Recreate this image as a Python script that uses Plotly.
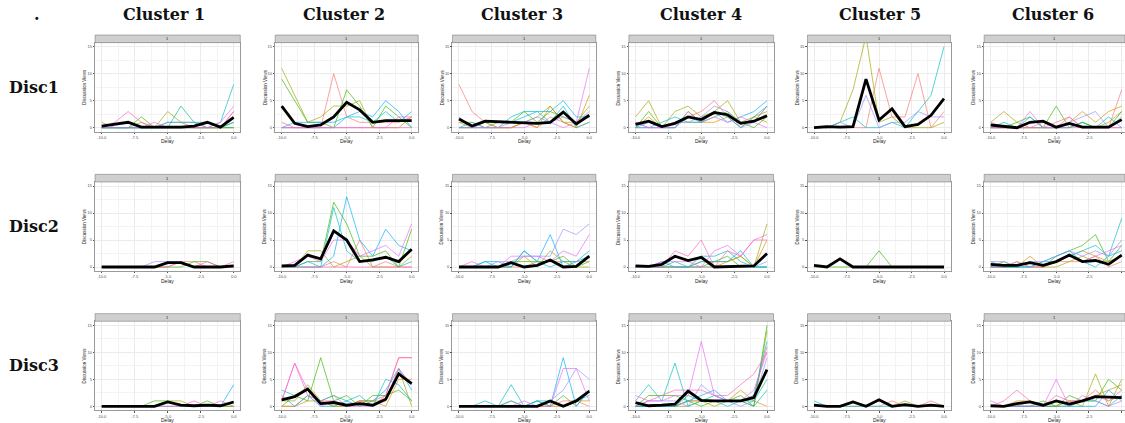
import plotly.graph_objects as go

# Delay steps shared by every panel
delay = list(range(-10, 1))

# ggplot-style hue palette; keys in the *_lines dicts index into it
HUES = ['#F8766D', '#D89000', '#A3A500', '#39B600', '#00BF7D',
        '#00BFC4', '#00B0F6', '#9590FF', '#E76BF3', '#FF62BC']

cluster_names = ['Cluster 1', 'Cluster 2', 'Cluster 3', 'Cluster 4', 'Cluster 5', 'Cluster 6']
disc_names = ['Disc1', 'Disc2', 'Disc3']
x_ticks = [-10, -7.5, -5, -2.5, 0]
x_tick_text = ['-10.0', '-7.5', '-5.0', '-2.5', '0.0']
y_ticks = [0, 5, 10, 15]
y_tick_text = ['0', '5', '10', '15']

# ---------------- Disc1 ----------------
d1_c1_mean = [0.3, 0.6, 1.0, 0.1, 0.1, 0.1, 0.1, 0.3, 1.0, 0.1, 1.9]
d1_c1_lines = {
    1: [1, 0, 0, 0, 0, 0, 0, 0, 0, 0, 0],
    9: [0, 1, 3, 1, 0, 0, 0, 0, 0, 0, 3],
    3: [0, 0, 0, 2, 0, 0, 0, 0, 0, 0, 1],
    4: [0, 0, 0, 0, 0, 0, 4, 1, 0, 0, 0],
    2: [0, 0, 0, 1, 0, 3, 1, 0, 0, 0, 0],
    5: [0, 0, 0, 0, 0, 0, 0, 0, 0, 1, 8],
    6: [0, 0, 0, 0, 0, 1, 1, 1, 1, 0, 1],
    8: [0, 0, 0, 0, 1, 0, 0, 0, 0, 1, 4],
    0: [0, 0, 0, 0, 0, 1, 1, 1, 0, 0, 3],
}
d1_c2_mean = [4.0, 0.8, 0.2, 0.5, 2.0, 4.7, 3.3, 1.0, 1.3, 1.3, 1.3]
d1_c2_lines = {
    2: [11, 6, 1, 2, 4, 4, 5, 0, 0, 0, 2],
    3: [9, 5, 1, 1, 0, 7, 4, 0, 4, 2, 0],
    0: [1, 0, 0, 0, 10, 2, 1, 1, 1, 1, 2],
    6: [0, 1, 1, 1, 1, 2, 3, 2, 5, 3, 0],
    5: [0, 0, 0, 0, 0, 2, 2, 1, 3, 1, 3],
    8: [0, 0, 0, 0, 0, 0, 0, 0, 0, 2, 2],
    9: [0, 0, 0, 0, 0, 0, 0, 0, 0, 0, 0],
}
d1_c3_mean = [1.6, 0.3, 1.2, 1.1, 1.0, 1.0, 0.8, 1.0, 2.9, 0.7, 2.3]
d1_c3_lines = {
    0: [8, 3, 1, 0, 0, 1, 0, 2, 1, 0, 1],
    2: [1, 0, 1, 0, 0, 1, 2, 4, 1, 1, 4],
    3: [0, 0, 0, 1, 1, 3, 1, 3, 2, 1, 2],
    5: [0, 1, 0, 0, 2, 3, 3, 1, 4, 0, 1],
    6: [0, 0, 1, 1, 1, 2, 3, 3, 5, 2, 2],
    7: [2, 0, 0, 0, 1, 1, 2, 1, 2, 1, 3],
    8: [0, 0, 0, 0, 0, 0, 1, 1, 0, 1, 11],
    1: [1, 1, 0, 0, 0, 1, 0, 4, 1, 0, 6],
}
d1_c4_mean = [0.6, 1.2, 0.2, 0.8, 2.0, 1.5, 2.8, 2.4, 0.8, 1.2, 2.2]
d1_c4_lines = {
    2: [2, 5, 0, 3, 4, 2, 3, 5, 1, 2, 3],
    0: [1, 0, 0, 1, 2, 3, 5, 2, 1, 1, 4],
    3: [0, 3, 0, 0, 3, 1, 2, 3, 1, 0, 2],
    5: [0, 0, 1, 2, 1, 1, 3, 2, 0, 2, 4],
    6: [0, 1, 0, 0, 2, 1, 3, 1, 2, 3, 5],
    7: [0, 0, 0, 1, 1, 2, 4, 3, 0, 1, 4],
    8: [1, 0, 0, 0, 3, 1, 2, 1, 2, 1, 0],
    1: [0, 2, 0, 1, 1, 1, 1, 2, 0, 2, 1],
}
d1_c5_mean = [0.0, 0.2, 0.1, 0.2, 9.0, 1.4, 3.5, 0.2, 0.6, 2.3, 5.4]
d1_c5_lines = {
    2: [0, 0, 1, 7, 17, 1, 2, 0, 0, 0, 1],
    0: [0, 0, 0, 0, 0, 11, 2, 2, 10, 0, 3],
    5: [0, 0, 1, 2, 0, 0, 1, 0, 3, 6, 15],
    7: [0, 0, 1, 0, 6, 0, 1, 1, 3, 2, 2],
}
d1_c6_mean = [0.5, 0.3, 0.0, 1.0, 1.2, 0.1, 0.8, 0.1, 0.1, 0.1, 1.5]
d1_c6_lines = {
    2: [1, 3, 1, 0, 0, 0, 0, 1, 0, 1, 3],
    1: [0, 0, 0, 0, 0, 0, 1, 3, 1, 3, 4],
    3: [0, 0, 1, 2, 0, 4, 0, 1, 0, 0, 3],
    8: [1, 0, 0, 3, 0, 0, 0, 0, 0, 0, 0],
    7: [0, 0, 0, 0, 0, 0, 1, 2, 3, 0, 2],
    0: [0, 0, 0, 0, 0, 1, 2, 0, 0, 0, 7],
    5: [0, 1, 0, 2, 0, 0, 0, 1, 0, 2, 0],
    9: [0, 0, 0, 0, 1, 0, 2, 0, 0, 0, 0],
}

# ---------------- Disc2 ----------------
d2_c1_mean = [0.0, 0.0, 0.0, 0.0, 0.0, 0.8, 0.8, 0.0, 0.0, 0.0, 0.2]
d2_c1_lines = {
    7: [0, 0, 0, 0, 1, 1, 1, 0, 0, 0, 0],
    3: [0, 0, 0, 0, 0, 0, 0, 1, 1, 0, 0],
    9: [0, 0, 0, 0, 0, 0, 1, 0, 1, 0, 1],
    0: [0, 0, 0, 0, 0, 0, 1, 1, 0, 0, 0],
}
d2_c2_mean = [0.2, 0.3, 2.2, 1.5, 6.7, 5.0, 1.0, 1.3, 1.8, 1.0, 3.3]
d2_c2_lines = {
    3: [0, 0, 1, 1, 12, 8, 2, 2, 3, 0, 7],
    6: [0, 0, 1, 0, 2, 13, 5, 2, 7, 4, 3],
    8: [0, 1, 2, 1, 5, 5, 2, 3, 4, 2, 8],
    2: [0, 0, 3, 3, 0, 1, 2, 0, 0, 0, 2],
    0: [0, 0, 0, 0, 1, 0, 5, 0, 1, 0, 0],
    5: [0, 0, 0, 0, 11, 3, 1, 1, 2, 0, 1],
    9: [0, 0, 0, 0, 0, 0, 0, 0, 0, 0, 0],
}
d2_c3_mean = [0.0, 0.0, 0.0, 0.0, 0.8, 0.0, 0.3, 1.3, 0.0, 0.1, 2.0]
d2_c3_lines = {
    7: [0, 0, 0, 1, 1, 2, 2, 2, 7, 6, 8],
    8: [0, 1, 0, 0, 2, 2, 2, 1, 3, 2, 6],
    6: [0, 0, 1, 1, 0, 3, 1, 6, 0, 1, 3],
    2: [0, 0, 0, 0, 0, 2, 0, 3, 1, 0, 0],
    3: [0, 0, 0, 0, 1, 1, 1, 1, 2, 0, 1],
    5: [0, 0, 1, 0, 0, 3, 1, 0, 1, 1, 2],
    0: [0, 0, 0, 0, 0, 0, 1, 1, 1, 1, 1],
}
d2_c4_mean = [0.2, 0.1, 0.5, 2.0, 1.2, 1.8, 0.0, 0.1, 0.1, 0.2, 2.5]
d2_c4_lines = {
    9: [0, 0, 0, 3, 2, 5, 0, 3, 2, 5, 5],
    8: [0, 0, 1, 1, 1, 0, 3, 4, 2, 5, 6],
    2: [0, 0, 0, 0, 0, 1, 1, 1, 2, 0, 8],
    1: [0, 0, 0, 0, 0, 0, 0, 1, 2, 0, 5],
    5: [0, 0, 0, 1, 0, 2, 2, 3, 1, 0, 0],
    6: [0, 0, 1, 0, 0, 1, 1, 1, 3, 0, 0],
    7: [0, 0, 0, 0, 0, 0, 0, 0, 0, 0, 1],
    3: [0, 0, 0, 0, 0, 0, 1, 2, 0, 0, 0],
}
d2_c5_mean = [0.3, 0.0, 1.5, 0.0, 0.0, 0.0, 0.0, 0.0, 0.0, 0.0, 0.0]
d2_c5_lines = {
    3: [0, 0, 0, 0, 0, 3, 0, 0, 0, 0, 0],
}
d2_c6_mean = [0.5, 0.3, 0.3, 0.8, 0.3, 1.0, 2.2, 1.0, 1.2, 0.5, 2.2]
d2_c6_lines = {
    5: [1, 0, 0, 0, 1, 1, 2, 3, 4, 2, 9],
    3: [0, 1, 0, 1, 0, 2, 3, 4, 6, 1, 4],
    7: [1, 1, 0, 1, 1, 2, 3, 2, 3, 2, 5],
    8: [0, 0, 1, 0, 0, 1, 2, 1, 2, 3, 4],
    1: [0, 0, 0, 2, 0, 1, 2, 3, 2, 1, 2],
    6: [0, 0, 0, 0, 1, 2, 3, 1, 0, 2, 3],
    0: [0, 0, 0, 0, 0, 1, 1, 1, 2, 0, 1],
    2: [0, 0, 1, 0, 0, 0, 1, 2, 1, 1, 2],
}

# ---------------- Disc3 ----------------
d3_c1_mean = [0.0, 0.0, 0.0, 0.0, 0.0, 0.8, 0.2, 0.1, 0.2, 0.1, 0.8]
d3_c1_lines = {
    6: [0, 0, 0, 0, 0, 0, 0, 0, 0, 0, 4],
    2: [0, 0, 0, 0, 0, 1, 1, 0, 0, 0, 0],
    9: [0, 0, 0, 0, 0, 0, 0, 1, 0, 1, 0],
    3: [0, 0, 0, 0, 1, 1, 0, 0, 1, 0, 0],
}
d3_c2_mean = [1.2, 1.8, 3.2, 0.5, 0.7, 0.2, 0.5, 0.2, 1.3, 6.0, 4.2]
d3_c2_lines = {
    9: [1, 8, 2, 1, 1, 0, 1, 0, 2, 9, 9],
    8: [1, 8, 3, 0, 1, 0, 0, 0, 1, 7, 4],
    0: [0, 0, 2, 1, 2, 0, 1, 1, 2, 9, 9],
    3: [0, 2, 1, 9, 1, 2, 0, 2, 2, 3, 1],
    5: [3, 2, 3, 1, 2, 1, 2, 0, 5, 4, 1],
    6: [2, 0, 2, 0, 0, 1, 0, 1, 3, 7, 3],
    2: [1, 1, 4, 1, 0, 0, 1, 1, 1, 7, 0],
    1: [0, 0, 1, 1, 0, 0, 1, 1, 0, 5, 5],
}
d3_c3_mean = [0.0, 0.0, 0.0, 0.0, 0.0, 0.0, 0.0, 1.0, 0.0, 1.0, 2.8]
d3_c3_lines = {
    6: [0, 0, 0, 0, 1, 0, 1, 0, 9, 0, 3],
    8: [0, 0, 0, 0, 0, 1, 0, 0, 7, 7, 1],
    7: [0, 0, 0, 0, 0, 0, 0, 1, 3, 7, 5],
    5: [0, 0, 1, 0, 4, 0, 1, 1, 0, 1, 2],
    3: [0, 0, 0, 0, 0, 0, 1, 0, 2, 0, 3],
    0: [0, 0, 0, 0, 0, 0, 0, 0, 1, 1, 0],
    1: [0, 0, 0, 0, 1, 0, 0, 0, 0, 1, 1],
}
d3_c4_mean = [0.7, 0.1, 0.2, 0.4, 2.8, 1.1, 1.0, 1.0, 1.0, 1.6, 6.8]
d3_c4_lines = {
    8: [0, 1, 1, 2, 2, 12, 2, 1, 1, 3, 10],
    5: [1, 4, 1, 8, 0, 1, 1, 0, 1, 0, 3],
    9: [2, 1, 2, 3, 3, 3, 2, 2, 4, 6, 10],
    7: [0, 1, 1, 1, 0, 4, 2, 1, 0, 1, 9],
    6: [0, 0, 0, 0, 1, 2, 3, 1, 1, 2, 12],
    1: [0, 0, 0, 0, 1, 1, 1, 1, 3, 1, 0],
    3: [0, 2, 2, 2, 1, 0, 1, 1, 2, 0, 15],
    2: [0, 0, 0, 0, 0, 1, 0, 1, 1, 0, 14],
    0: [0, 0, 0, 0, 1, 1, 1, 1, 1, 2, 11],
    4: [0, 0, 0, 0, 2, 1, 2, 1, 1, 1, 5],
}
d3_c5_mean = [0.2, 0.0, 0.0, 0.8, 0.0, 1.2, 0.0, 0.3, 0.0, 0.2, 0.0]
d3_c5_lines = {
    5: [1, 0, 0, 0, 0, 0, 0, 0, 0, 0, 0],
    2: [0, 0, 0, 1, 0, 1, 0, 1, 0, 0, 0],
    0: [0, 0, 0, 0, 0, 0, 1, 0, 0, 1, 0],
}
d3_c6_mean = [0.1, 0.0, 0.5, 0.8, 0.2, 1.0, 0.4, 1.0, 1.8, 1.7, 1.6]
d3_c6_lines = {
    9: [0, 1, 3, 1, 0, 2, 1, 1, 2, 1, 3],
    8: [1, 0, 0, 0, 0, 5, 0, 2, 1, 0, 1],
    2: [0, 0, 0, 0, 0, 0, 1, 0, 6, 0, 5],
    3: [0, 0, 0, 0, 1, 0, 2, 1, 1, 5, 3],
    1: [0, 0, 1, 1, 0, 0, 1, 1, 2, 3, 4],
    0: [0, 0, 0, 1, 0, 0, 0, 1, 3, 1, 2],
    6: [0, 0, 0, 0, 0, 1, 0, 0, 0, 3, 1],
    5: [0, 0, 0, 0, 0, 0, 0, 1, 1, 0, 2],
}

panels = [
    [(d1_c1_lines, d1_c1_mean), (d1_c2_lines, d1_c2_mean), (d1_c3_lines, d1_c3_mean),
     (d1_c4_lines, d1_c4_mean), (d1_c5_lines, d1_c5_mean), (d1_c6_lines, d1_c6_mean)],
    [(d2_c1_lines, d2_c1_mean), (d2_c2_lines, d2_c2_mean), (d2_c3_lines, d2_c3_mean),
     (d2_c4_lines, d2_c4_mean), (d2_c5_lines, d2_c5_mean), (d2_c6_lines, d2_c6_mean)],
    [(d3_c1_lines, d3_c1_mean), (d3_c2_lines, d3_c2_mean), (d3_c3_lines, d3_c3_mean),
     (d3_c4_lines, d3_c4_mean), (d3_c5_lines, d3_c5_mean), (d3_c6_lines, d3_c6_mean)],
]

# ---------------- page geometry (pixels) ----------------
W, H = 1125, 423
col_x10 = [101.7, 281.7, 459.0, 635.5, 814.0, 990.7]   # pixel of delay -10
col_unit = [13.2, 13.0, 13.03, 13.15, 13.0, 13.1]      # pixels per delay step
row_y0 = [127.7, 267.0, 406.3]                          # pixel of 0 views
y_unit = 5.4
Y_LO, Y_HI = -0.75, 15.75
STRIP_H = 7.6
header_x = [163.5, 344, 522, 701, 880, 1053]


def fx(p):
    return p / W


def fy(p):
    return 1 - p / H


def hex_rgba(h, a):
    h = h.lstrip('#')
    return 'rgba(%d,%d,%d,%.2f)' % (int(h[0:2], 16), int(h[2:4], 16), int(h[4:6], 16), a)


fig = go.Figure()
annotations = []
shapes = []
layout_axes = {}

for r in range(3):
    for c in range(6):
        idx = r * 6 + c + 1
        xa = 'x' if idx == 1 else 'x%d' % idx
        ya = 'y' if idx == 1 else 'y%d' % idx

        left = col_x10[c] - 0.5 * col_unit[c]
        right = col_x10[c] + 10.5 * col_unit[c]
        x_lo, x_hi = -10.5, 0.5
        if right > W:
            x_hi = -10 + (W - col_x10[c]) / col_unit[c]
            right = W
        top = row_y0[r] - Y_HI * y_unit
        bottom = row_y0[r] - Y_LO * y_unit

        lines, mean = panels[r][c]
        for hue in sorted(lines):
            fig.add_trace(go.Scatter(
                x=delay, y=lines[hue], mode='lines', xaxis=xa, yaxis=ya,
                line=dict(color=hex_rgba(HUES[hue], 0.75), width=0.9),
                showlegend=False, hoverinfo='skip'))
        fig.add_trace(go.Scatter(
            x=delay, y=mean, mode='lines', xaxis=xa, yaxis=ya,
            line=dict(color='black', width=2.8), showlegend=False))

        common = dict(
            showline=True, mirror=True, linecolor='#9A9A9A', linewidth=0.7,
            showgrid=True, gridcolor='#EBEBEB', gridwidth=0.6,
            zeroline=False, ticks='outside', ticklen=1.5, tickwidth=0.5,
            tickcolor='#555555', tickfont=dict(size=4, color='#4D4D4D', family='Liberation Sans'),
            fixedrange=True,
        )
        layout_axes['xaxis%d' % idx] = dict(
            common, domain=[fx(left), fx(right)], range=[x_lo, x_hi],
            anchor=ya, tickmode='array', tickvals=x_ticks, ticktext=x_tick_text,
            minor=dict(showgrid=True, gridcolor='#F3F3F3', gridwidth=0.4,
                       tickmode='array', tickvals=[-8.75, -6.25, -3.75, -1.25]))
        layout_axes['yaxis%d' % idx] = dict(
            common, domain=[fy(bottom), fy(top)], range=[Y_LO, Y_HI],
            anchor=xa, tickmode='array', tickvals=y_ticks, ticktext=y_tick_text,
            minor=dict(showgrid=True, gridcolor='#F3F3F3', gridwidth=0.4,
                       tickmode='array', tickvals=[2.5, 7.5, 12.5]))

        # facet strip above the panel
        shapes.append(dict(
            type='rect', xref='paper', yref='paper',
            x0=fx(left), x1=fx(right), y0=fy(top), y1=fy(top - STRIP_H),
            fillcolor='#CFCFCF', line=dict(color='#808080', width=0.6), layer='above'))
        annotations.append(dict(
            text='1', xref='paper', yref='paper', x=fx((left + right) / 2),
            y=fy(top - STRIP_H / 2), showarrow=False,
            font=dict(size=4, color='#1A1A1A', family='Liberation Sans'),
            xanchor='center', yanchor='middle'))
        # axis titles
        annotations.append(dict(
            text='Delay', xref='paper', yref='paper', x=fx((left + right) / 2),
            y=fy(bottom + 9.5), showarrow=False,
            font=dict(size=5, color='#1A1A1A', family='Liberation Sans'),
            xanchor='center', yanchor='middle'))
        annotations.append(dict(
            text='Discussion Views', xref='paper', yref='paper', x=fx(left - 10.5),
            y=fy((top + bottom) / 2), showarrow=False, textangle=-90,
            font=dict(size=4.5, color='#1A1A1A', family='Liberation Sans'),
            xanchor='center', yanchor='middle'))

# column headers and row labels
head_font = dict(family='DejaVu Serif', size=16, color='#111111')
for c, name in enumerate(cluster_names):
    annotations.append(dict(
        text='<b>%s</b>' % name, xref='paper', yref='paper', x=fx(header_x[c]),
        y=fy(14), showarrow=False, font=head_font, xanchor='center', yanchor='middle'))
row_label_y = [88, 226, 365]
for r, name in enumerate(disc_names):
    annotations.append(dict(
        text='<b>%s</b>' % name, xref='paper', yref='paper', x=fx(33.5),
        y=fy(row_label_y[r]), showarrow=False, font=head_font,
        xanchor='center', yanchor='middle'))
annotations.append(dict(
    text='<b>.</b>', xref='paper', yref='paper', x=fx(37), y=fy(14), showarrow=False,
    font=head_font, xanchor='center', yanchor='middle'))

fig.update_layout(
    width=W, height=H, margin=dict(l=0, r=0, t=0, b=0),
    paper_bgcolor='white', plot_bgcolor='white',
    annotations=annotations, shapes=shapes, **layout_axes)

fig.write_html('out.html')
